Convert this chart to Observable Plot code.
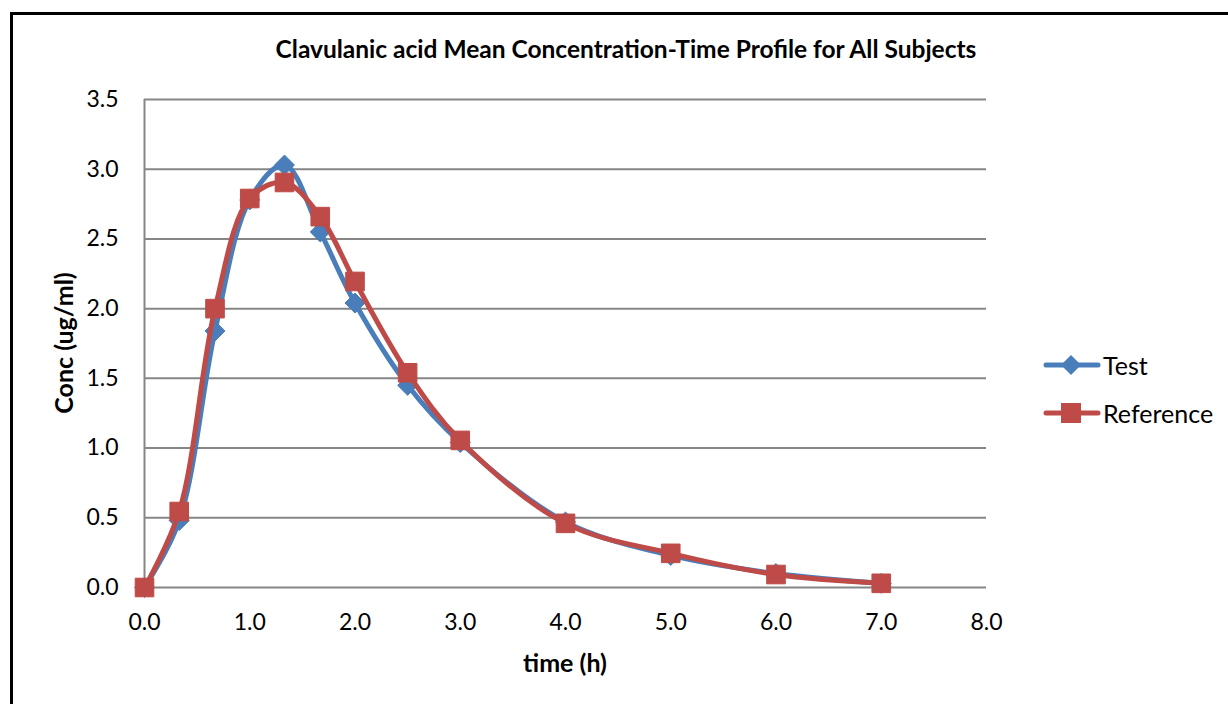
<!DOCTYPE html>
<html>
<head>
<meta charset="utf-8">
<script src="https://cdn.jsdelivr.net/npm/d3@7"></script>
<script src="https://cdn.jsdelivr.net/npm/@observablehq/plot@0.6"></script>
<style>
  body { margin: 0; background: #fff; font-family: Lato, "Open Sans", sans-serif; }
  #wrap { position: relative; width: 1228px; height: 704px; overflow: hidden; }
  #frame { position: absolute; left: 10px; top: 12px; width: 1300px; height: 800px; border-left: 3px solid #000; border-top: 3px solid #000; }
  #title { position: absolute; left: 0; width: 1252px; top: 34px; text-align: center; font-weight: bold; font-size: 24.5px; color: #000; white-space: nowrap; }
  #ylab { position: absolute; left: 63px; top: 343px; transform: translate(-50%, -50%) rotate(-90deg); font-weight: bold; font-size: 25px; white-space: nowrap; }
  #xlab { position: absolute; left: 565px; top: 662px; transform: translate(-50%, -50%); font-weight: bold; font-size: 25px; white-space: nowrap; }
  #legend { position: absolute; left: 1043px; top: 341px; font-size: 25px; color: #000; }
  .li { display: flex; align-items: center; height: 48px; }
  .li svg { margin-right: 2px; }
  #chart { position: absolute; left: 0; top: 0; }
</style>
</head>
<body>
<div id="wrap">
  <div id="frame"></div>
  <div id="chart"></div>
  <div id="title">Clavulanic acid Mean Concentration-Time Profile for All Subjects</div>
  <div id="ylab">Conc (ug/ml)</div>
  <div id="xlab">time (h)</div>
  <div id="legend"></div>
</div>
<script>
const times = [0, 0.33, 0.67, 1.0, 1.33, 1.67, 2.0, 2.5, 3.0, 4.0, 5.0, 6.0, 7.0];
const testConc = [0, 0.48, 1.84, 2.78, 3.03, 2.55, 2.04, 1.45, 1.04, 0.47, 0.23, 0.10, 0.03];
const refConc = [0, 0.545, 2.00, 2.79, 2.905, 2.66, 2.195, 1.54, 1.055, 0.46, 0.245, 0.093, 0.03];
const xTicks = [0, 1, 2, 3, 4, 5, 6, 7, 8];
const yTicks = [0, 0.5, 1.0, 1.5, 2.0, 2.5, 3.0, 3.5];
const seriesNames = ["Test", "Reference"];
const seriesColors = ["#4a7ebb", "#be4b48"];

const testData = times.map((t, i) => ({t, c: testConc[i]}));
const refData = times.map((t, i) => ({t, c: refConc[i]}));

const chart = Plot.plot({
  width: 1228,
  height: 704,
  marginLeft: 144,
  marginRight: 242,
  marginTop: 99,
  marginBottom: 117,
  style: { fontFamily: "Lato, 'Open Sans', sans-serif", fontSize: "23px", color: "#000", background: "transparent", overflow: "visible" },
  x: { domain: [0, 8], label: null },
  y: { domain: [0, 3.5], label: null },
  marks: [
    Plot.gridY(yTicks, { stroke: "#868686", strokeOpacity: 1, strokeWidth: 2 }),
    Plot.ruleX([0], { stroke: "#868686", strokeWidth: 2 }),
    Plot.axisX({ ticks: xTicks, tickSize: 0, tickPadding: 26, tickFormat: d3.format(".1f"), fontSize: 23, label: null }),
    Plot.axisY({ ticks: yTicks, tickSize: 0, tickPadding: 26, tickFormat: d3.format(".1f"), fontSize: 23, label: null }),
    Plot.line(testData, { x: "t", y: "c", stroke: seriesColors[0], strokeWidth: 5, curve: "catmull-rom" }),
    Plot.dot(testData, { x: "t", y: "c", symbol: "diamond2", r: 9, fill: seriesColors[0], stroke: seriesColors[0], strokeWidth: 1 }),
    Plot.line(refData, { x: "t", y: "c", stroke: seriesColors[1], strokeWidth: 5, curve: "catmull-rom" }),
    Plot.dot(refData, { x: "t", y: "c", symbol: "square", r: 10.5, fill: seriesColors[1], stroke: seriesColors[1], strokeWidth: 1 })
  ]
});
document.getElementById("chart").appendChild(chart);

const legend = document.getElementById("legend");
seriesNames.forEach((name, i) => {
  const row = document.createElement("div");
  row.className = "li";
  const sym = i === 0
    ? `<polygon points="28,2 38,12 28,22 18,12" fill="${seriesColors[0]}"/>`
    : `<rect x="18" y="2" width="20" height="20" fill="${seriesColors[1]}"/>`;
  row.innerHTML = `<svg width="58" height="24"><line x1="3" y1="12" x2="55" y2="12" stroke="${seriesColors[i]}" stroke-width="5" stroke-linecap="round"/>${sym}</svg><span>${name}</span>`;
  legend.appendChild(row);
});
</script>
</body>
</html>
